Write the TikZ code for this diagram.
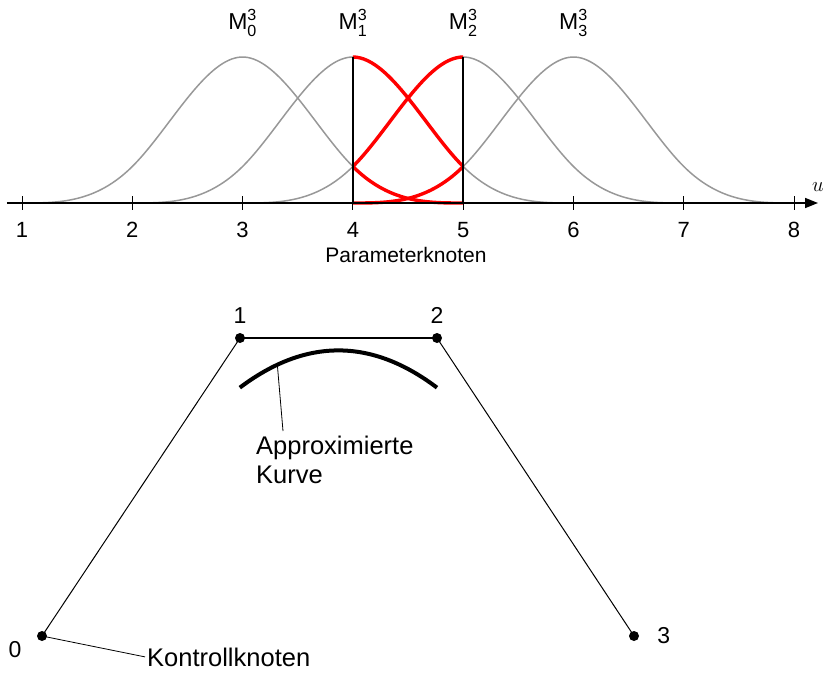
\documentclass[tikz,border=0pt]{standalone}
\usepackage{fontspec}
\setmainfont{Liberation Sans}
\usepackage{amsmath}
\usetikzlibrary{positioning,calc,arrows.meta}
\definecolor{BasisGrey}{HTML}{989898}
\definecolor{BasisRed}{HTML}{FF0000}

\begin{document}
\begin{tikzpicture}[x=1pt,y=-1pt,>={Triangle[length=13pt,width=10pt]},
  declare function={bsp(\d)=(\d<1)*(2/3-\d*\d+\d*\d*\d/2)+(\d>=1)*(\d<2)*(2-\d)*(2-\d)*(2-\d)/6;}]
  \tikzstyle{greybasis}=[draw=BasisGrey,line width=1.5pt]
  \tikzstyle{redbasis}=[draw=BasisRed,line width=3.4pt,line join=round]
  \tikzstyle{axislabel}=[inner sep=0pt,font=\fontsize{22}{26}\selectfont]
  \tikzstyle{ctrlpt}=[circle,fill=black,inner sep=0pt,minimum size=10pt]
  \tikzstyle{ctrllabel}=[inner sep=0pt,font=\fontsize{23}{27}\selectfont]
  \tikzstyle{notetext}=[inner sep=0pt,align=left,font=\fontsize{25.5}{29}\selectfont]
  \useasboundingbox (0,0) rectangle (827,677);

  % basis functions M_i^3 over the parameter knots
  \begin{scope}[shift={(-88.3,203)},x=110.3pt,y=219pt]
    \foreach \c/\a/\b in {3/1/5,4/2/6,5/3/7,6/4/8}
      \draw[greybasis] plot[domain=\a:\b,samples=81,smooth] (\x,{bsp(abs(\x-\c))});
    \foreach \c in {3,4,5,6}
      \draw[redbasis] plot[domain=4:5,samples=31,smooth] (\x,{bsp(abs(\x-\c))});
    \draw[line width=1.5pt] (4,0) -- (4,2/3);
    \draw[line width=1.5pt] (5,0) -- (5,2/3);
    % axis
    \draw[line width=1.4pt,->] (0.864,0) -- (8.217,0);
    \foreach \u in {1,...,8} {
      \draw[line width=0.9pt] (\u,0) +(0,7pt) -- +(0,-7pt);
      \node[axislabel] (t\u) at ([yshift=-27pt]\u,0) {\u};
    }
    \foreach \i in {0,...,3}
      \node[axislabel,anchor=base,font=\fontsize{23}{27}\selectfont] (m\i) at (\i+3,0.79) {M$^{\text{3}}_{\text{\i}}$};
  \end{scope}
  \node[axislabel,anchor=west] (uaxis) at (812,187) {$u$};
  \node[axislabel,anchor=base,font=\fontsize{21}{25}\selectfont] (xlabel) at (406,262) {Parameterknoten};

  % control polygon
  \node[ctrlpt] (p0) at (42,636) {};
  \node[ctrlpt] (p1) at (240,338) {};
  \node[ctrlpt] (p2) at (437,338) {};
  \node[ctrlpt] (p3) at (634,636) {};
  \draw[line width=1pt] (p0.center) -- (p1.center);
  \draw[line width=1.8pt] (p1.center) -- (p2.center);
  \draw[line width=1pt] (p2.center) -- (p3.center);
  \node[ctrllabel,above=9pt of p1] (l1) {1};
  \node[ctrllabel,above=9pt of p2] (l2) {2};
  \node[ctrllabel] (l0) at (15,650) {0};
  \node[ctrllabel,right=18pt of p3] (l3) {3};

  % approximated curve segment
  \coordinate (b0) at ($1/6*(p0)+2/3*(p1)+1/6*(p2)$);
  \coordinate (b1) at ($2/3*(p1)+1/3*(p2)$);
  \coordinate (b2) at ($1/3*(p1)+2/3*(p2)$);
  \coordinate (b3) at ($1/6*(p1)+2/3*(p2)+1/6*(p3)$);
  \draw[line width=4pt] (b0) .. controls (b1) and (b2) .. (b3) coordinate[pos=0.19] (cpt);

  \node[notetext,anchor=north west] (approx) at (256,436) {Approximierte\\Kurve};
  \coordinate (aend) at (283,431);
  \draw[line width=0.8pt] (cpt) -- (aend);
  \node[notetext,anchor=base west] (ctrl) at (147,666) {Kontrollknoten};
  \draw[line width=0.8pt] (p0.center) -- ([xshift=-2pt]ctrl.west);
\end{tikzpicture}
\end{document}
